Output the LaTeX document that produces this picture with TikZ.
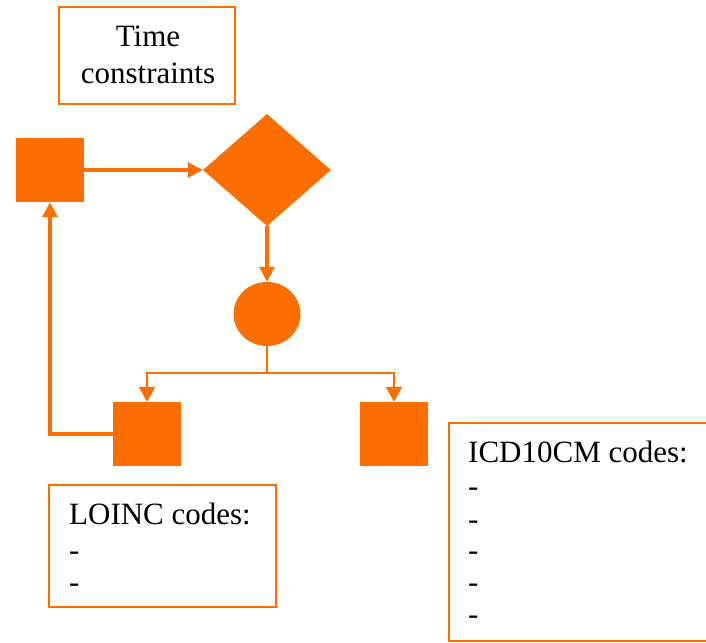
\documentclass[tikz,border=0pt]{standalone}
\usepackage{fontspec}
\setmainfont{Liberation Serif}
\usetikzlibrary{arrows.meta,shapes.geometric}
\definecolor{org}{RGB}{252,110,0}
\tikzset{
  solidsq/.style={rectangle,fill=org,draw=none,minimum width=68pt,minimum height=64pt,inner sep=0pt},
  framebox/.style={rectangle,draw=org,line width=2.5pt,inner sep=0pt,fill=white},
  txt/.style={font=\fontsize{31}{37}\selectfont,inner sep=0pt,text=black},
  conn/.style={draw=org,line width=3.5pt,-{Triangle[length=15pt,width=15pt]}},
  thinconn/.style={draw=org,line width=2.5pt},
  thinarr/.style={draw=org,line width=2.5pt,-{Triangle[length=15pt,width=16pt]}},
}
\begin{document}
\begin{tikzpicture}[x=1pt,y=-1pt]
\useasboundingbox (0,0) rectangle (706,642);
\clip (0,0) rectangle (706,642);
% Time constraints box
\node[framebox,minimum width=176pt,minimum height=97pt] (tc) at (147,55.5) {};
\node[txt,anchor=base] (tct1) at (148,46) {Time};
\node[txt,anchor=base] (tct2) at (148,83) {constraints};
% shapes
\node[solidsq] (s1) at (50,170) {};
\node[diamond,fill=org,draw=none,inner sep=0pt,minimum width=128pt,minimum height=112pt,aspect=1.14] (d) at (267,170) {};
\node[ellipse,fill=org,draw=none,inner sep=0pt,minimum width=67pt,minimum height=64pt] (c) at (267,314) {};
\node[solidsq] (s2) at (147,434) {};
\node[solidsq] (s3) at (394,434) {};
% connectors
\draw[conn] (s1.east) -- (d.west);
\draw[conn] (d.south) -- (c.north);
\coordinate (br) at (267,373);
\draw[thinconn] (c.south) -- (br);
\draw[thinarr] (br) -| (s2.north);
\draw[thinarr] (br) -| (s3.north);
\draw[conn,line width=3.5pt] (s2.west) -| (s1.south);
% LOINC box
\node[framebox,minimum width=227pt,minimum height=122pt] (lb) at (162.5,546) {};
\node[txt,anchor=base west] (l1) at (69,524) {LOINC codes:};
\node[txt,anchor=base west] (l2) at (69,560) {-};
\node[txt,anchor=base west] (l3) at (69,592) {-};
% ICD box
\node[framebox,minimum width=280pt,minimum height=218pt] (ib) at (589,532) {};
\node[txt,anchor=base west] (i1) at (468,462) {ICD10CM codes:};
\node[txt,anchor=base west] (i2) at (468,496) {-};
\node[txt,anchor=base west] (i3) at (468,529) {-};
\node[txt,anchor=base west] (i4) at (468,560) {-};
\node[txt,anchor=base west] (i5) at (468,592) {-};
\node[txt,anchor=base west] (i6) at (468,624) {-};
\end{tikzpicture}
\end{document}
